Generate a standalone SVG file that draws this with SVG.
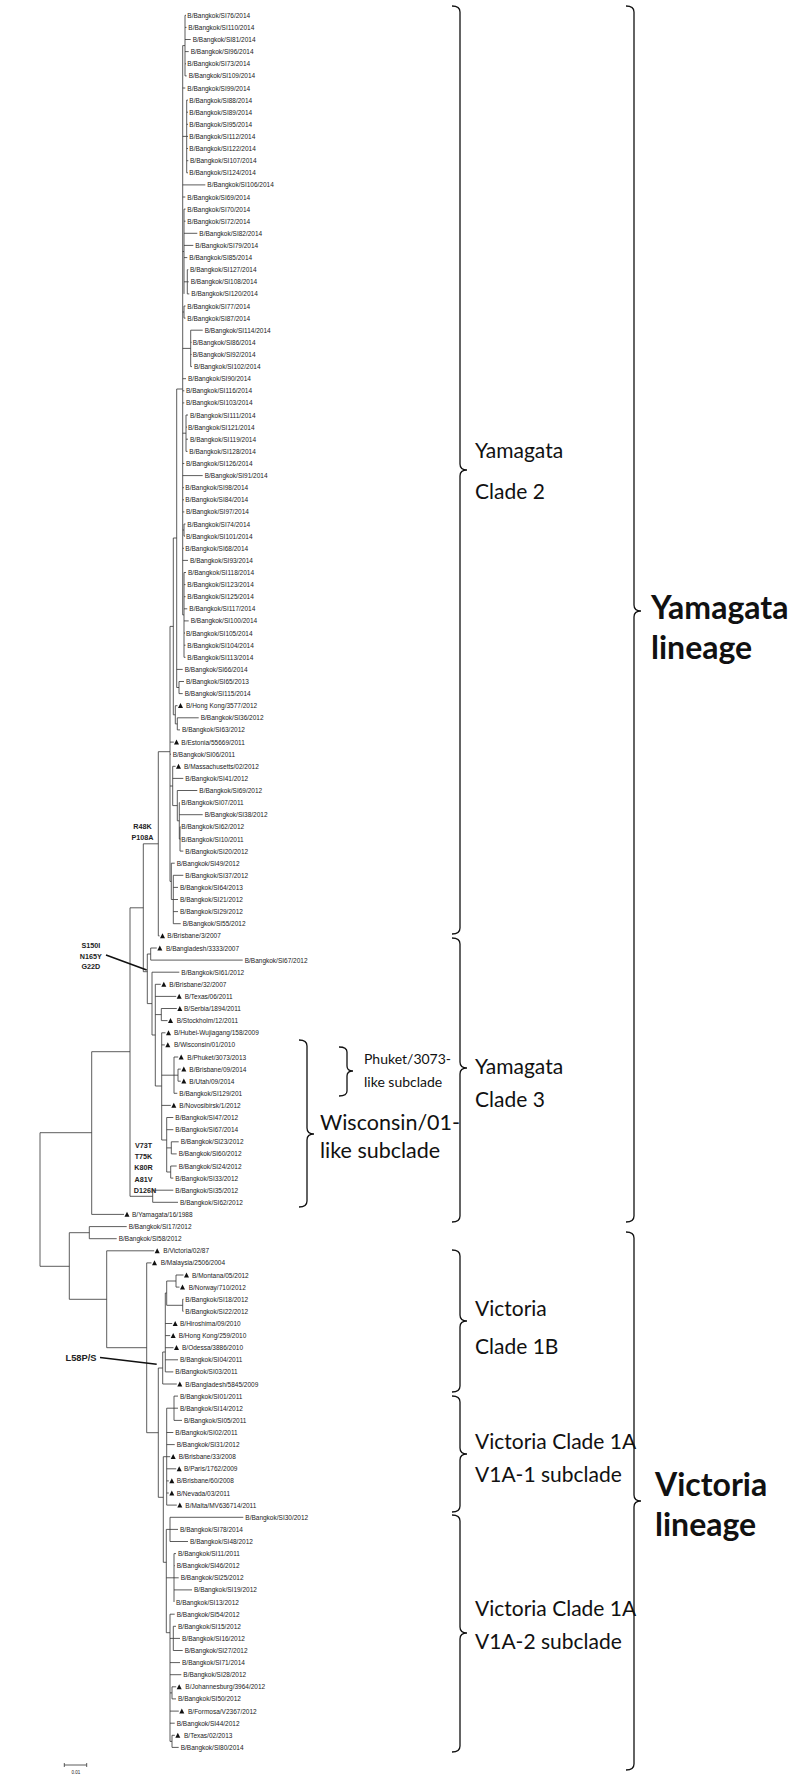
<svg xmlns="http://www.w3.org/2000/svg" xmlns:xlink="http://www.w3.org/1999/xlink" width="800" height="1777" viewBox="0 0 800 1777">
<defs>
<style>
.l{font-family:"Liberation Sans",Arial,sans-serif;font-size:6.5px;fill:#222;dominant-baseline:central}
.m{font-family:"Liberation Sans",Arial,sans-serif;font-size:7.2px;font-weight:bold;fill:#222;text-anchor:middle;dominant-baseline:central}
.c{font-family:Lato,"Liberation Sans",sans-serif;font-size:21px;fill:#111;dominant-baseline:central}
.s{font-family:Lato,"Liberation Sans",sans-serif;font-size:14px;fill:#111;dominant-baseline:central}
.b{font-family:Lato,"Liberation Sans",sans-serif;font-size:32px;font-weight:bold;fill:#111;dominant-baseline:central}
.e{fill:none;stroke:#333;stroke-width:0.8}
.k{fill:none;stroke:#111;stroke-width:1.3}
.p{fill:none;stroke:#111;stroke-width:1.6}
</style>
<path id="t" d="M0,2.4 L2.5,-2.6 L5,2.4 Z" fill="#111"/>
</defs>
<rect width="800" height="1777" fill="#fff"/>
<g id="edges" class="e">
<path d="M40,1132.7V1266.3M40,1132.7H91.7M91.7,1051.7V1214.4M91.7,1214.4H124M91.7,1051.7H130M130,907.8V1196.3M130,907.8H143.3M130,1196.3H152.7M152.7,1190.2V1202.3M152.7,1190.2H173.3M152.7,1202.3H178M143.3,843.8V971.7M143.3,843.8H158.3M158.3,751.7V935.9M158.3,935.9H159.6M158.3,751.7H170M170,626.4V881.4M170,626.4H173.3M173.3,538V714.8M173.3,538H176.7M176.7,389V687.5M176.7,389H182.7M182.7,45.6V614.9"/>
<path d="M182.7,45.6H185M185,15.3V75.9M185,15.3H186M185,27.4H186.5M185,39.5H190.7M185,51.6H188.7M185,63.8H186M185,75.9H186.7M182.7,88H185.3M182.7,136.4H186.7M186.7,100.1V172.8M186.7,100.1H188M186.7,112.2H188M186.7,124.3H188M186.7,136.4H188M186.7,148.5H188M186.7,160.7H188.3M186.7,172.8H188M182.7,184.9H205.3M182.7,197H185.3M182.7,251.5H184M184,209.1V293.9M184,209.1H185.5M184,221.2H185.5M184,233.3H197.3M184,245.4H193.3M184,257.6H187.3M184,281.8H187.3M187.3,269.7V293.9M187.3,269.7H188.3M187.3,281.8H188.7M187.3,293.9H189.3M182.7,312H184M184,306V318.1M184,306H185.5M184,318.1H185.5M182.7,348.4H190.7M190.7,330.2V366.6M190.7,330.2H202.7M190.7,342.3H191.5M190.7,354.5H191.5M190.7,366.6H192M182.7,378.7H186M182.7,390.8H184.3M182.7,402.9H184.3M182.7,433.2H186M186,415V451.4M186,415H188M186,427.1H187M186,439.2H188M186,451.4H187.5M182.7,463.5H184.3M182.7,475.6H202.7M182.7,487.7H184M182.7,499.8H184M182.7,511.9H184.3M182.7,530H184M184,524V536.1M184,524H185.5M184,536.1H185M182.7,548.3H184M182.7,560.4H188M182.7,614.9H184M184,572.5V657.3M184,572.5H186M184,584.6H185.5M184,596.7H185.5M184,608.8H187.3M184,620.9H188.7M184,633H185M184,645.2H185.5M184,657.3H185.5"/>
<path d="M176.7,669.4H182.7M176.7,687.5H179M179,681.5V693.6M179,681.5H184M179,693.6H182.7M173.3,714.8H175.3M175.3,705.7V723.9M175.3,705.7H177.5M175.3,723.9H177.3M177.3,717.8V729.9M177.3,717.8H198.7M177.3,729.9H180M170,742.1H173.8M170,754.2H170.9M170,786H172.7M172.7,766.3V805.6M172.7,766.3H175.6M172.7,778.4H183.3M172.7,805.6H177.3M177.3,790.5V820.8M177.3,790.5H197.3M177.3,820.8H179.3M179.3,802.6V839M179.3,802.6H179.8M179.3,814.7H202.7M179.3,839H180M180,826.8V851.1M180,826.8H180.5M180,839H180.5M180,851.1H183.3M170,881.4H171.3M171.3,863.2V899.5M171.3,863.2H174.7M171.3,899.5H173.3M173.3,875.3V923.7M173.3,875.3H183.3M173.3,887.4H178M173.3,899.5H178M173.3,911.6H178M173.3,923.7H180.7"/>
<path d="M143.3,971.7H147.3M147.3,954V1003.6M147.3,954H150.7M150.7,948V960.1M150.7,948H156.8M150.7,960.1H242.7M147.3,1003.6H152M152,972.2V1035M152,972.2H179.3M152,1035H155.3M155.3,984.3V1086M155.3,984.3H160.8M155.3,996.4H176.2M155.3,1014.6H161.3M161.3,1008.5V1020.6M161.3,1008.5H176.8M161.3,1020.6H167.5M155.3,1086H161.7M161.7,1032.8V1140M161.7,1032.8H165.5M161.7,1044.9H164.8M161.7,1075.2H174M174,1057V1093.3M174,1057H178.2M174,1075.2H178M178,1069.1V1081.2M178,1069.1H180.8M178,1081.2H180.8M174,1093.3H177.3M161.7,1105.4H170.8M161.7,1140H166.7M166.7,1117.5V1172M166.7,1117.5H173.3M166.7,1129.7H173.3M166.7,1147.9H171.3M171.3,1141.8V1153.9M171.3,1141.8H178.7M171.3,1153.9H176.7M166.7,1172H170.7M170.7,1166V1178.1M170.7,1166H176.7M170.7,1178.1H173.3"/>
<path d="M40,1266.3H69.3M69.3,1232.7V1299.3M69.3,1232.7H89.3M89.3,1226.6V1238.7M89.3,1226.6H126.7M89.3,1238.7H116.7M69.3,1299.3H106.7M106.7,1250.8V1347.7M106.7,1250.8H154.2M106.7,1347.7H146.7M146.7,1262.9V1432.7M146.7,1262.9H151.5M146.7,1432.7H158.3M158.3,1368V1497.3M158.3,1368H162.7M162.7,1352V1384M162.7,1384H176.8M162.7,1352H165.3M165.3,1293V1371.9M165.3,1293H166.7M166.7,1281V1305.3M166.7,1281H176M176,1275V1287.1M176,1275H183.5M176,1287.1H179.5M166.7,1305.3H182.7M182.7,1299.2V1311.3M182.7,1299.2H183.5M182.7,1311.3H183.5M165.3,1323.5H172.2M165.3,1335.6H170.2M165.3,1347.7H173.5M165.3,1359.8H178M165.3,1371.9H173.3"/>
<path d="M158.3,1497.3H163.3M163.3,1456.7V1562.3M163.3,1456.7H166.7M166.7,1408.2V1505.1M166.7,1408.2H174M174,1396.1V1420.4M174,1396.1H178M174,1408.2H178M174,1420.4H182M166.7,1432.5H173.3M166.7,1444.6H174.7M166.7,1456.7H170.2M166.7,1468.8H176.2M166.7,1480.9H168.8M166.7,1493H168.8M166.7,1505.1H176.8M163.3,1562.3H166.3M166.3,1529.4V1632.7M166.3,1529.4H170M170,1517.3V1541.5M170,1517.3H243.3M170,1529.4H178M170,1541.5H188M166.3,1577.8H174M174,1553.6V1602M174,1553.6H176M174,1565.7H174.7M174,1577.8H178.7M174,1589.9H192M166.3,1632.7H170M170,1614.2V1741.4M170,1614.2H174.7M170,1638.4H173.3M173.3,1626.3V1650.5M173.3,1626.3H176M173.3,1638.4H180M173.3,1650.5H182.7M170,1662.6H180M170,1674.7H181.3M170,1692.9H172M172,1686.8V1698.9M172,1686.8H176.2M172,1698.9H176M170,1711.1H178.8M170,1723.2H174.7M170,1741.4H172M172,1735.3V1747.4M172,1735.3H174.8M172,1747.4H178.7"/>
<path class="p" d="M106,955L146.7,970M100,1357.5L156.7,1364.3"/>
</g>
<g id="leaves">
<g id="n1"><text class="l" x="187.3" y="15.3">B/Bangkok/SI76/2014</text></g>
<g id="n2"><text class="l" x="188.3" y="27.4">B/Bangkok/SI110/2014</text></g>
<g id="n3"><text class="l" x="192.7" y="39.5">B/Bangkok/SI81/2014</text></g>
<g id="n4"><text class="l" x="190.7" y="51.6">B/Bangkok/SI96/2014</text></g>
<g id="n5"><text class="l" x="187.3" y="63.8">B/Bangkok/SI73/2014</text></g>
<g id="n6"><text class="l" x="188.7" y="75.9">B/Bangkok/SI109/2014</text></g>
<g id="n7"><text class="l" x="187.3" y="88">B/Bangkok/SI99/2014</text></g>
<g id="n8"><text class="l" x="189.3" y="100.1">B/Bangkok/SI88/2014</text></g>
<g id="n9"><text class="l" x="189.3" y="112.2">B/Bangkok/SI89/2014</text></g>
<g id="n10"><text class="l" x="189.3" y="124.3">B/Bangkok/SI95/2014</text></g>
<g id="n11"><text class="l" x="189.3" y="136.4">B/Bangkok/SI112/2014</text></g>
<g id="n12"><text class="l" x="189.3" y="148.5">B/Bangkok/SI122/2014</text></g>
<g id="n13"><text class="l" x="190" y="160.7">B/Bangkok/SI107/2014</text></g>
<g id="n14"><text class="l" x="189.3" y="172.8">B/Bangkok/SI124/2014</text></g>
<g id="n15"><text class="l" x="207.3" y="184.9">B/Bangkok/SI106/2014</text></g>
<g id="n16"><text class="l" x="187.3" y="197">B/Bangkok/SI69/2014</text></g>
<g id="n17"><text class="l" x="187.3" y="209.1">B/Bangkok/SI70/2014</text></g>
<g id="n18"><text class="l" x="187.3" y="221.2">B/Bangkok/SI72/2014</text></g>
<g id="n19"><text class="l" x="199.3" y="233.3">B/Bangkok/SI82/2014</text></g>
<g id="n20"><text class="l" x="195.3" y="245.4">B/Bangkok/SI79/2014</text></g>
<g id="n21"><text class="l" x="189.3" y="257.6">B/Bangkok/SI85/2014</text></g>
<g id="n22"><text class="l" x="190" y="269.7">B/Bangkok/SI127/2014</text></g>
<g id="n23"><text class="l" x="190.7" y="281.8">B/Bangkok/SI108/2014</text></g>
<g id="n24"><text class="l" x="191.3" y="293.9">B/Bangkok/SI120/2014</text></g>
<g id="n25"><text class="l" x="187.3" y="306">B/Bangkok/SI77/2014</text></g>
<g id="n26"><text class="l" x="187.3" y="318.1">B/Bangkok/SI87/2014</text></g>
<g id="n27"><text class="l" x="204.7" y="330.2">B/Bangkok/SI114/2014</text></g>
<g id="n28"><text class="l" x="192.7" y="342.3">B/Bangkok/SI86/2014</text></g>
<g id="n29"><text class="l" x="192.7" y="354.5">B/Bangkok/SI92/2014</text></g>
<g id="n30"><text class="l" x="194" y="366.6">B/Bangkok/SI102/2014</text></g>
<g id="n31"><text class="l" x="188" y="378.7">B/Bangkok/SI90/2014</text></g>
<g id="n32"><text class="l" x="186" y="390.8">B/Bangkok/SI116/2014</text></g>
<g id="n33"><text class="l" x="186" y="402.9">B/Bangkok/SI103/2014</text></g>
<g id="n34"><text class="l" x="190" y="415">B/Bangkok/SI111/2014</text></g>
<g id="n35"><text class="l" x="188" y="427.1">B/Bangkok/SI121/2014</text></g>
<g id="n36"><text class="l" x="190" y="439.2">B/Bangkok/SI119/2014</text></g>
<g id="n37"><text class="l" x="189.3" y="451.4">B/Bangkok/SI128/2014</text></g>
<g id="n38"><text class="l" x="186" y="463.5">B/Bangkok/SI126/2014</text></g>
<g id="n39"><text class="l" x="204.7" y="475.6">B/Bangkok/SI91/2014</text></g>
<g id="n40"><text class="l" x="185.3" y="487.7">B/Bangkok/SI98/2014</text></g>
<g id="n41"><text class="l" x="185.3" y="499.8">B/Bangkok/SI84/2014</text></g>
<g id="n42"><text class="l" x="186" y="511.9">B/Bangkok/SI97/2014</text></g>
<g id="n43"><text class="l" x="187.3" y="524">B/Bangkok/SI74/2014</text></g>
<g id="n44"><text class="l" x="186" y="536.1">B/Bangkok/SI101/2014</text></g>
<g id="n45"><text class="l" x="185.3" y="548.3">B/Bangkok/SI68/2014</text></g>
<g id="n46"><text class="l" x="190" y="560.4">B/Bangkok/SI93/2014</text></g>
<g id="n47"><text class="l" x="188" y="572.5">B/Bangkok/SI118/2014</text></g>
<g id="n48"><text class="l" x="187.3" y="584.6">B/Bangkok/SI123/2014</text></g>
<g id="n49"><text class="l" x="187.3" y="596.7">B/Bangkok/SI125/2014</text></g>
<g id="n50"><text class="l" x="189.3" y="608.8">B/Bangkok/SI117/2014</text></g>
<g id="n51"><text class="l" x="190.7" y="620.9">B/Bangkok/SI100/2014</text></g>
<g id="n52"><text class="l" x="186" y="633">B/Bangkok/SI105/2014</text></g>
<g id="n53"><text class="l" x="187.3" y="645.2">B/Bangkok/SI104/2014</text></g>
<g id="n54"><text class="l" x="187.3" y="657.3">B/Bangkok/SI113/2014</text></g>
<g id="n55"><text class="l" x="184.7" y="669.4">B/Bangkok/SI66/2014</text></g>
<g id="n56"><text class="l" x="186" y="681.5">B/Bangkok/SI65/2013</text></g>
<g id="n57"><text class="l" x="184.7" y="693.6">B/Bangkok/SI115/2014</text></g>
<g id="n58"><use href="#t" x="178" y="705.7"/><text class="l" x="186" y="705.7">B/Hong Kong/3577/2012</text></g>
<g id="n59"><text class="l" x="200.7" y="717.8">B/Bangkok/SI36/2012</text></g>
<g id="n60"><text class="l" x="182" y="729.9">B/Bangkok/SI63/2012</text></g>
<g id="n61"><use href="#t" x="174" y="742.1"/><text class="l" x="181.3" y="742.1">B/Estonia/55669/2011</text></g>
<g id="n62"><text class="l" x="172.7" y="754.2">B/Bangkok/SI06/2011</text></g>
<g id="n63"><use href="#t" x="176" y="766.3"/><text class="l" x="184" y="766.3">B/Massachusetts/02/2012</text></g>
<g id="n64"><text class="l" x="185.3" y="778.4">B/Bangkok/SI41/2012</text></g>
<g id="n65"><text class="l" x="199.3" y="790.5">B/Bangkok/SI69/2012</text></g>
<g id="n66"><text class="l" x="181.3" y="802.6">B/Bangkok/SI07/2011</text></g>
<g id="n67"><text class="l" x="204.7" y="814.7">B/Bangkok/SI38/2012</text></g>
<g id="n68"><text class="l" x="181.3" y="826.8">B/Bangkok/SI62/2012</text></g>
<g id="n69"><text class="l" x="181.3" y="839">B/Bangkok/SI10/2011</text></g>
<g id="n70"><text class="l" x="185.3" y="851.1">B/Bangkok/SI20/2012</text></g>
<g id="n71"><text class="l" x="176.7" y="863.2">B/Bangkok/SI49/2012</text></g>
<g id="n72"><text class="l" x="185.3" y="875.3">B/Bangkok/SI37/2012</text></g>
<g id="n73"><text class="l" x="180" y="887.4">B/Bangkok/SI64/2013</text></g>
<g id="n74"><text class="l" x="180" y="899.5">B/Bangkok/SI21/2012</text></g>
<g id="n75"><text class="l" x="180" y="911.6">B/Bangkok/SI29/2012</text></g>
<g id="n76"><text class="l" x="182.7" y="923.7">B/Bangkok/SI55/2012</text></g>
<g id="n77"><use href="#t" x="160" y="935.9"/><text class="l" x="167.3" y="935.9">B/Brisbane/3/2007</text></g>
<g id="n78"><use href="#t" x="157.3" y="948"/><text class="l" x="166" y="948">B/Bangladesh/3333/2007</text></g>
<g id="n79"><text class="l" x="244.7" y="960.1">B/Bangkok/SI67/2012</text></g>
<g id="n80"><text class="l" x="181.3" y="972.2">B/Bangkok/SI61/2012</text></g>
<g id="n81"><use href="#t" x="161.3" y="984.3"/><text class="l" x="169.3" y="984.3">B/Brisbane/32/2007</text></g>
<g id="n82"><use href="#t" x="176.7" y="996.4"/><text class="l" x="184.7" y="996.4">B/Texas/06/2011</text></g>
<g id="n83"><use href="#t" x="177.3" y="1008.5"/><text class="l" x="184" y="1008.5">B/Serbia/1894/2011</text></g>
<g id="n84"><use href="#t" x="168" y="1020.6"/><text class="l" x="176.7" y="1020.6">B/Stockholm/12/2011</text></g>
<g id="n85"><use href="#t" x="166" y="1032.8"/><text class="l" x="174" y="1032.8">B/Hubei-Wujiagang/158/2009</text></g>
<g id="n86"><use href="#t" x="165.3" y="1044.9"/><text class="l" x="174" y="1044.9">B/Wisconsin/01/2010</text></g>
<g id="n87"><use href="#t" x="178.7" y="1057"/><text class="l" x="187.3" y="1057">B/Phuket/3073/2013</text></g>
<g id="n88"><use href="#t" x="181.3" y="1069.1"/><text class="l" x="189.3" y="1069.1">B/Brisbane/09/2014</text></g>
<g id="n89"><use href="#t" x="181.3" y="1081.2"/><text class="l" x="189.3" y="1081.2">B/Utah/09/2014</text></g>
<g id="n90"><text class="l" x="179.3" y="1093.3">B/Bangkok/SI129/201</text></g>
<g id="n91"><use href="#t" x="171.3" y="1105.4"/><text class="l" x="179.3" y="1105.4">B/Novosibirsk/1/2012</text></g>
<g id="n92"><text class="l" x="175.3" y="1117.5">B/Bangkok/SI47/2012</text></g>
<g id="n93"><text class="l" x="175.3" y="1129.7">B/Bangkok/SI67/2014</text></g>
<g id="n94"><text class="l" x="180.7" y="1141.8">B/Bangkok/SI23/2012</text></g>
<g id="n95"><text class="l" x="178.7" y="1153.9">B/Bangkok/SI60/2012</text></g>
<g id="n96"><text class="l" x="178.7" y="1166">B/Bangkok/SI24/2012</text></g>
<g id="n97"><text class="l" x="175.3" y="1178.1">B/Bangkok/SI33/2012</text></g>
<g id="n98"><text class="l" x="175.3" y="1190.2">B/Bangkok/SI35/2012</text></g>
<g id="n99"><text class="l" x="180" y="1202.3">B/Bangkok/SI62/2012</text></g>
<g id="n100"><use href="#t" x="124.5" y="1214.4"/><text class="l" x="132" y="1214.4">B/Yamagata/16/1988</text></g>
<g id="n101"><text class="l" x="128.7" y="1226.6">B/Bangkok/SI17/2012</text></g>
<g id="n102"><text class="l" x="118.7" y="1238.7">B/Bangkok/SI58/2012</text></g>
<g id="n103"><use href="#t" x="154.7" y="1250.8"/><text class="l" x="163.3" y="1250.8">B/Victoria/02/87</text></g>
<g id="n104"><use href="#t" x="152" y="1262.9"/><text class="l" x="160.7" y="1262.9">B/Malaysia/2506/2004</text></g>
<g id="n105"><use href="#t" x="184" y="1275"/><text class="l" x="192" y="1275">B/Montana/05/2012</text></g>
<g id="n106"><use href="#t" x="180" y="1287.1"/><text class="l" x="188.7" y="1287.1">B/Norway/710/2012</text></g>
<g id="n107"><text class="l" x="185.3" y="1299.2">B/Bangkok/SI18/2012</text></g>
<g id="n108"><text class="l" x="185.3" y="1311.3">B/Bangkok/SI22/2012</text></g>
<g id="n109"><use href="#t" x="172.7" y="1323.5"/><text class="l" x="180" y="1323.5">B/Hiroshima/09/2010</text></g>
<g id="n110"><use href="#t" x="170.7" y="1335.6"/><text class="l" x="178.7" y="1335.6">B/Hong Kong/259/2010</text></g>
<g id="n111"><use href="#t" x="174" y="1347.7"/><text class="l" x="182" y="1347.7">B/Odessa/3886/2010</text></g>
<g id="n112"><text class="l" x="180" y="1359.8">B/Bangkok/SI04/2011</text></g>
<g id="n113"><text class="l" x="175.3" y="1371.9">B/Bangkok/SI03/2011</text></g>
<g id="n114"><use href="#t" x="177.3" y="1384"/><text class="l" x="185.3" y="1384">B/Bangladesh/5845/2009</text></g>
<g id="n115"><text class="l" x="180" y="1396.1">B/Bangkok/SI01/2011</text></g>
<g id="n116"><text class="l" x="180" y="1408.2">B/Bangkok/SI14/2012</text></g>
<g id="n117"><text class="l" x="184" y="1420.4">B/Bangkok/SI05/2011</text></g>
<g id="n118"><text class="l" x="175.3" y="1432.5">B/Bangkok/SI02/2011</text></g>
<g id="n119"><text class="l" x="176.7" y="1444.6">B/Bangkok/SI31/2012</text></g>
<g id="n120"><use href="#t" x="170.7" y="1456.7"/><text class="l" x="178.7" y="1456.7">B/Brisbane/33/2008</text></g>
<g id="n121"><use href="#t" x="176.7" y="1468.8"/><text class="l" x="184" y="1468.8">B/Paris/1762/2009</text></g>
<g id="n122"><use href="#t" x="169.3" y="1480.9"/><text class="l" x="176.7" y="1480.9">B/Brisbane/60/2008</text></g>
<g id="n123"><use href="#t" x="169.3" y="1493"/><text class="l" x="176.7" y="1493">B/Nevada/03/2011</text></g>
<g id="n124"><use href="#t" x="177.3" y="1505.1"/><text class="l" x="185.3" y="1505.1">B/Malta/MV636714/2011</text></g>
<g id="n125"><text class="l" x="245.3" y="1517.3">B/Bangkok/SI30/2012</text></g>
<g id="n126"><text class="l" x="180" y="1529.4">B/Bangkok/SI78/2014</text></g>
<g id="n127"><text class="l" x="190" y="1541.5">B/Bangkok/SI48/2012</text></g>
<g id="n128"><text class="l" x="178" y="1553.6">B/Bangkok/SI11/2011</text></g>
<g id="n129"><text class="l" x="176.7" y="1565.7">B/Bangkok/SI46/2012</text></g>
<g id="n130"><text class="l" x="180.7" y="1577.8">B/Bangkok/SI25/2012</text></g>
<g id="n131"><text class="l" x="194" y="1589.9">B/Bangkok/SI19/2012</text></g>
<g id="n132"><text class="l" x="176" y="1602">B/Bangkok/SI13/2012</text></g>
<g id="n133"><text class="l" x="176.7" y="1614.2">B/Bangkok/SI54/2012</text></g>
<g id="n134"><text class="l" x="178" y="1626.3">B/Bangkok/SI15/2012</text></g>
<g id="n135"><text class="l" x="182" y="1638.4">B/Bangkok/SI16/2012</text></g>
<g id="n136"><text class="l" x="184.7" y="1650.5">B/Bangkok/SI27/2012</text></g>
<g id="n137"><text class="l" x="182" y="1662.6">B/Bangkok/SI71/2014</text></g>
<g id="n138"><text class="l" x="183.3" y="1674.7">B/Bangkok/SI28/2012</text></g>
<g id="n139"><use href="#t" x="176.7" y="1686.8"/><text class="l" x="185.3" y="1686.8">B/Johannesburg/3964/2012</text></g>
<g id="n140"><text class="l" x="178" y="1698.9">B/Bangkok/SI50/2012</text></g>
<g id="n141"><use href="#t" x="179.3" y="1711.1"/><text class="l" x="188" y="1711.1">B/Formosa/V2367/2012</text></g>
<g id="n142"><text class="l" x="176.7" y="1723.2">B/Bangkok/SI44/2012</text></g>
<g id="n143"><use href="#t" x="175.3" y="1735.3"/><text class="l" x="184" y="1735.3">B/Texas/02/2013</text></g>
<g id="n144"><text class="l" x="180.7" y="1747.4">B/Bangkok/SI80/2014</text></g>
</g>
<g id="mutations">
<text class="m" x="142.5" y="826.7">R48K</text>
<text class="m" x="142.5" y="837.5">P108A</text>
<text class="m" x="90.8" y="945">S150I</text>
<text class="m" x="90.8" y="956">N165Y</text>
<text class="m" x="90.8" y="966.7">G22D</text>
<text class="m" x="143.5" y="1145">V73T</text>
<text class="m" x="143.5" y="1156.3">T75K</text>
<text class="m" x="143.5" y="1167.3">K80R</text>
<text class="m" x="143.5" y="1179">A81V</text>
<text class="m" x="145" y="1190.7">D126N</text>
<text class="m" x="81" y="1357.7" style="font-size:9.3px">L58P/S</text>
</g>
<g id="scale">
<path class="e" d="M64.3,1765H86.7M64.3,1763V1767M86.7,1763V1767"/>
<text class="l" x="76" y="1772" style="font-size:4.5px;text-anchor:middle">0.01</text>
</g>
<g id="clades">
<path class="k" d="M452,6Q460,6 460,12V464Q460,470 467,470Q460,470 460,476V928Q460,934 452,934"/>
<text class="c" x="475" y="449">Yamagata</text>
<text class="c" x="475" y="490">Clade 2</text>
<path class="k" d="M452,938Q460,938 460,944V1062Q460,1068 467,1068Q460,1068 460,1074V1216Q460,1222 452,1222"/>
<text class="c" x="475" y="1065">Yamagata</text>
<text class="c" x="475" y="1098">Clade 3</text>
<path class="k" d="M339,1047Q347,1047 347,1052V1066Q347,1071 353,1071Q347,1071 347,1076V1091Q347,1096 339,1096"/>
<text class="s" x="364" y="1058">Phuket/3073-</text>
<text class="s" x="364" y="1081">like subclade</text>
<path class="k" d="M299,1040Q307,1040 307,1046V1128Q307,1134 314,1134Q307,1134 307,1140V1201Q307,1207 299,1207"/>
<text class="c" x="320" y="1122" style="font-size:21.5px">Wisconsin/01-</text>
<text class="c" x="320" y="1150" style="font-size:21.5px">like subclade</text>
<path class="k" d="M626,6Q634,6 634,12V605Q634,611 641,611Q634,611 634,617V1216Q634,1222 626,1222"/>
<text class="b" x="651" y="606">Yamagata</text>
<text class="b" x="651" y="646">lineage</text>
<path class="k" d="M626,1232Q634,1232 634,1238V1495Q634,1501 641,1501Q634,1501 634,1507V1764Q634,1770 626,1770"/>
<text class="b" x="655" y="1483">Victoria</text>
<text class="b" x="655" y="1523">lineage</text>
<path class="k" d="M452,1250Q460,1250 460,1256V1315Q460,1321 467,1321Q460,1321 460,1327V1386Q460,1392 452,1392"/>
<text class="c" x="475" y="1307">Victoria</text>
<text class="c" x="475" y="1345">Clade 1B</text>
<path class="k" d="M452,1396Q460,1396 460,1402V1448Q460,1454 467,1454Q460,1454 460,1460V1506Q460,1512 452,1512"/>
<text class="c" x="475" y="1440">Victoria Clade 1A</text>
<text class="c" x="475" y="1473">V1A-1 subclade</text>
<path class="k" d="M452,1515Q460,1515 460,1521V1627Q460,1633 467,1633Q460,1633 460,1639V1746Q460,1752 452,1752"/>
<text class="c" x="475" y="1607">Victoria Clade 1A</text>
<text class="c" x="475" y="1640">V1A-2 subclade</text>
</g>
</svg>
